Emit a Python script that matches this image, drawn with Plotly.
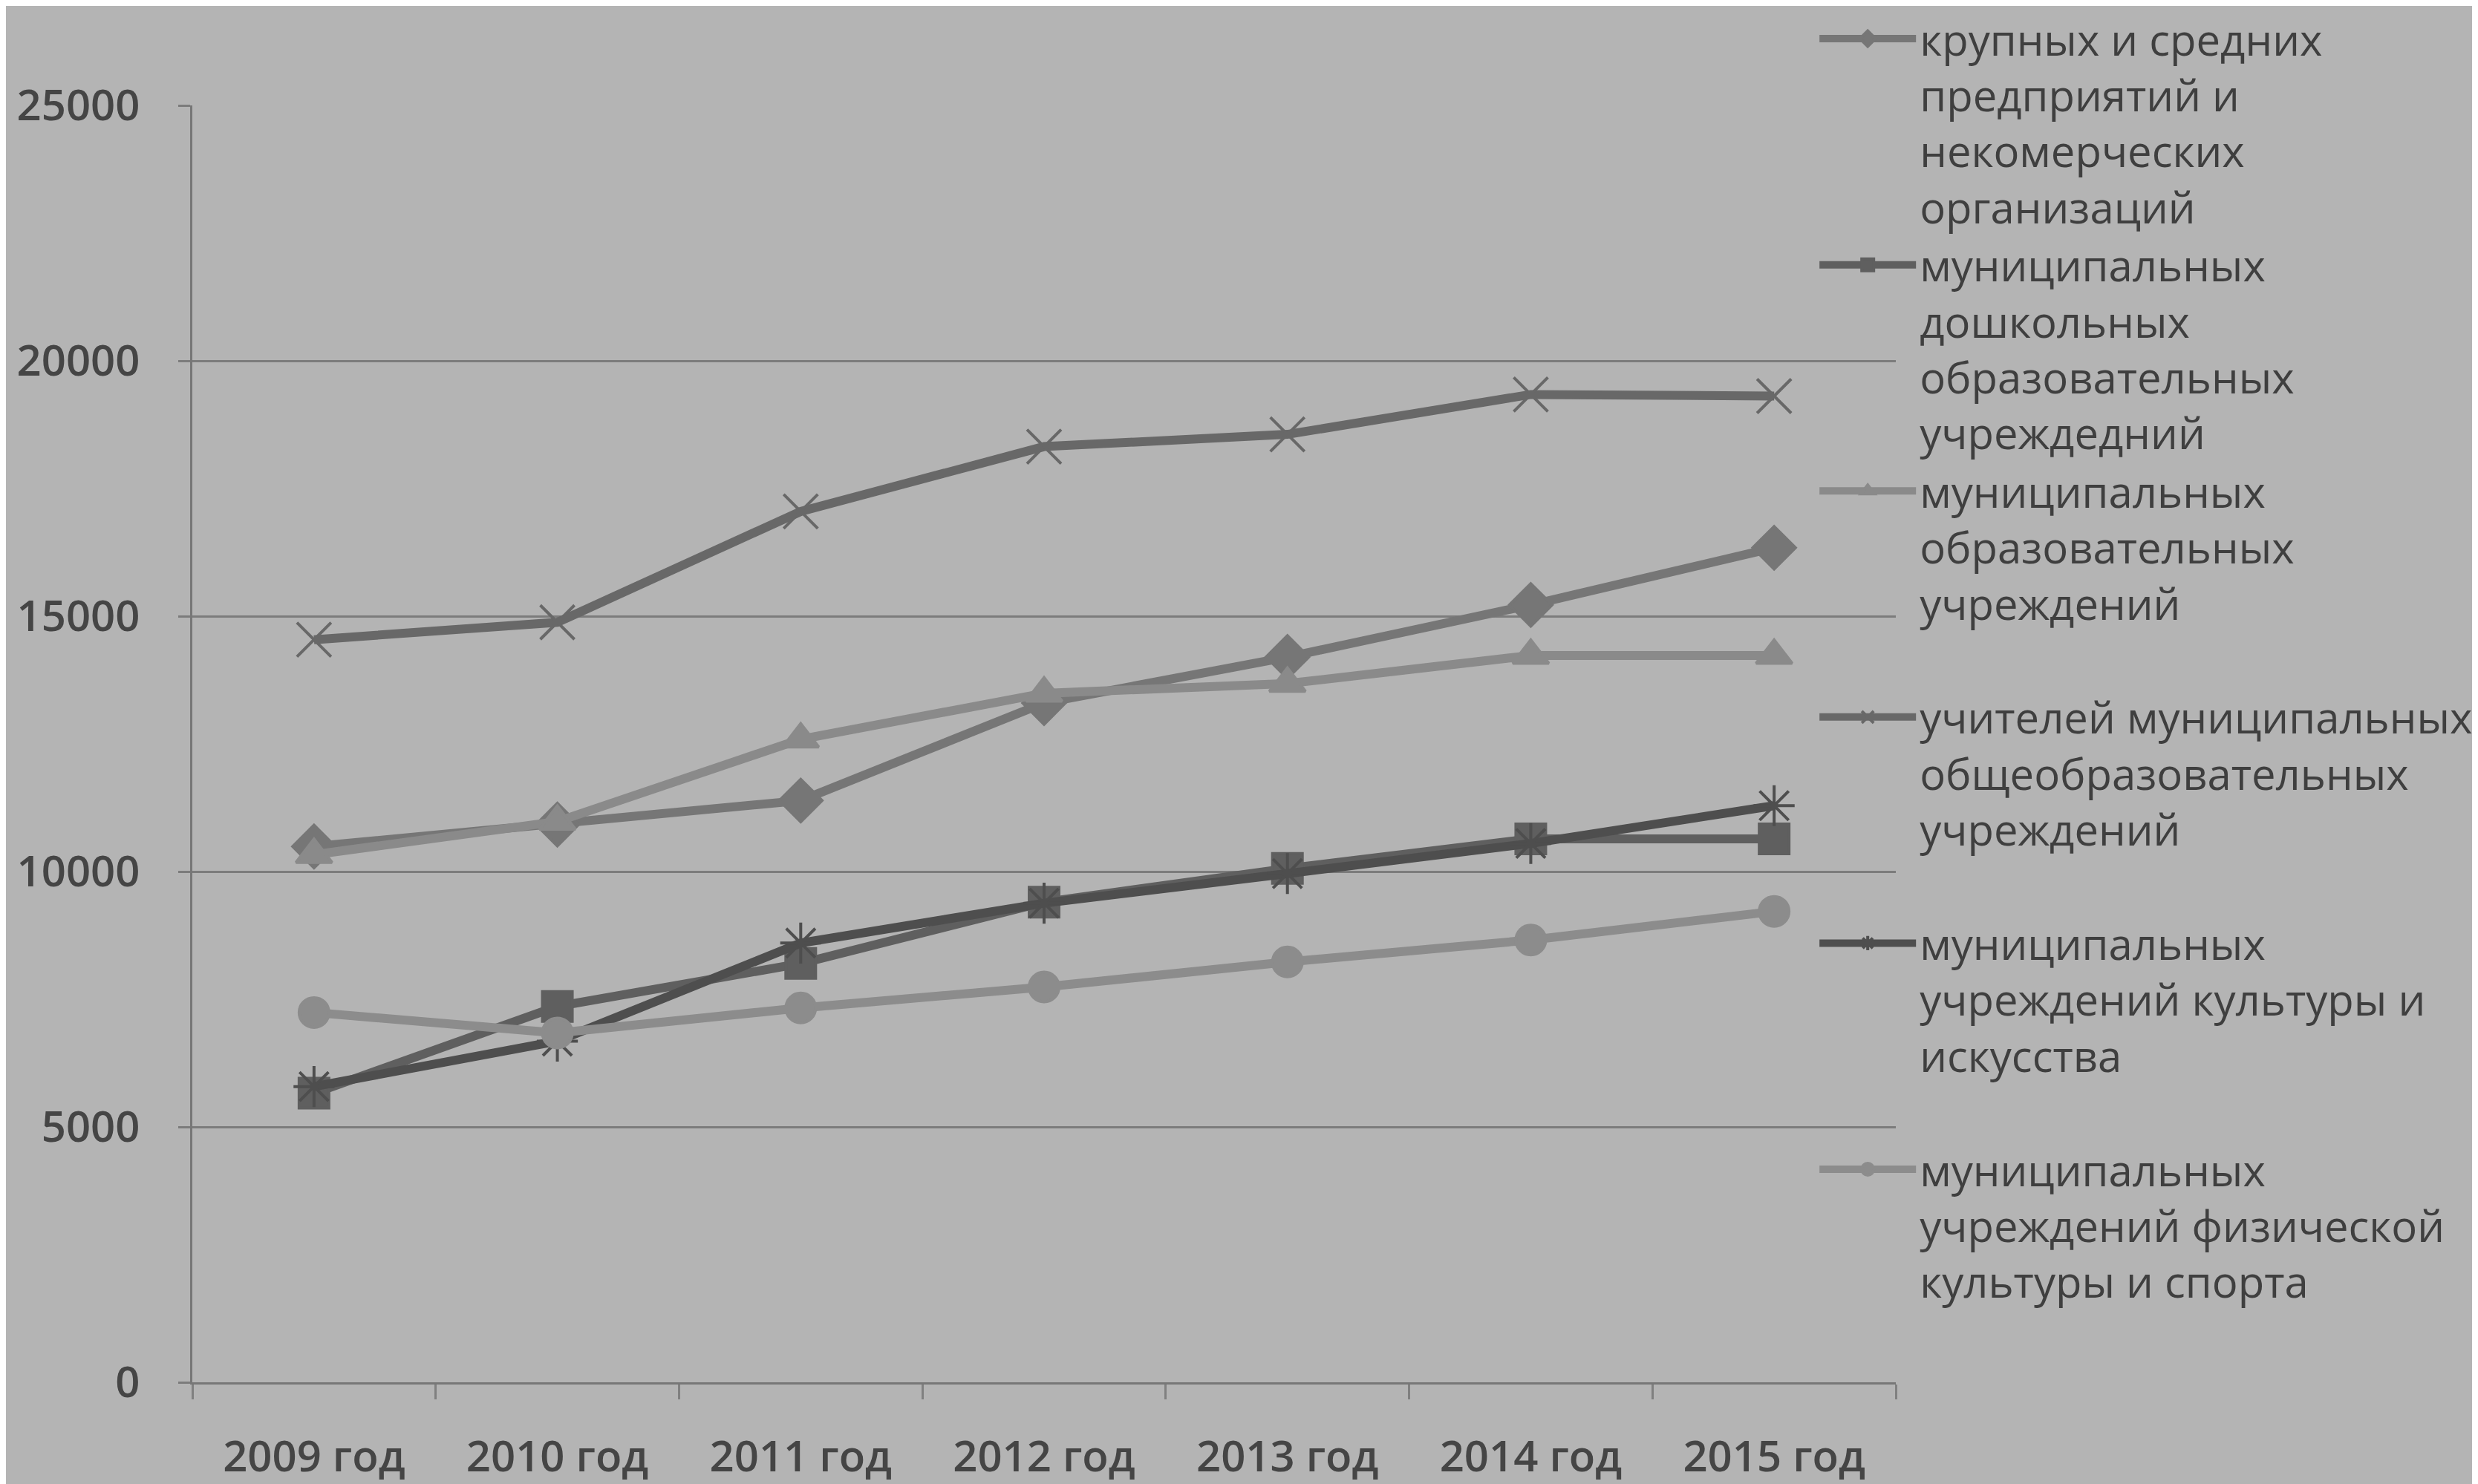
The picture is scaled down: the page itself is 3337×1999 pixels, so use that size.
import plotly.graph_objects as go

years = ["2009 год", "2010 год", "2011 год", "2012 год", "2013 год", "2014 год", "2015 год"]

names = [
    "крупных и средних<br>предприятий и<br>некомерческих<br>организаций",
    "муниципальных<br>дошкольных<br>образовательных<br>учреждедний",
    "муниципальных<br>образовательных<br>учреждений<br>\u00a0",
    "учителей муниципальных<br>общеобразовательных<br>учреждений<br>\u00a0",
    "муниципальных<br>учреждений культуры и<br>искусства<br>\u00a0",
    "муниципальных<br>учреждений физической<br>культуры и спорта<br>\u00a0",
]

krupnye = [10490, 10920, 11390, 13300, 14200, 15220, 16340]
doshkolnye = [5660, 7360, 8200, 9400, 10060, 10640, 10640]
obrazovatelnye = [10330, 10980, 12590, 13490, 13680, 14230, 14230]
uchitelya = [14540, 14880, 17050, 18320, 18560, 19340, 19310]
kultura = [5790, 6680, 8600, 9380, 9960, 10550, 11290]
sport = [7240, 6840, 7330, 7740, 8230, 8660, 9220]

series = [krupnye, doshkolnye, obrazovatelnye, uchitelya, kultura, sport]
colors = ["#767676", "#5f5f5f", "#8a8a8a", "#686868", "#4e4e4e", "#8c8c8c"]
symbols = ["diamond", "square", "triangle-up", "x-thin-open", "asterisk-open", "circle"]
msizes = [44, 40, 42, 46, 46, 40]

fig = go.Figure()
for name, vals, col, sym, ms in zip(names, series, colors, symbols, msizes):
    fig.add_trace(go.Scatter(
        x=years, y=vals, name=name, mode="lines+markers",
        line=dict(color=col, width=12),
        marker=dict(symbol=sym, size=ms, color=col, line=dict(color=col, width=4)),
    ))

txt = "#454545"
fig.update_layout(
    width=3337, height=1999,
    paper_bgcolor="#b4b4b4", plot_bgcolor="#b4b4b4",
    margin=dict(l=251, r=792, t=134, b=145, autoexpand=False),
    font=dict(family="Open Sans", size=58, color=txt, weight=600),
    showlegend=True,
    legend=dict(
        x=0.953, y=1.078, xanchor="left", yanchor="top",
        bgcolor="rgba(0,0,0,0)", valign="top",
        font=dict(size=58, color="#3f3f3f", weight=500),
        itemwidth=130, traceorder="normal", maxheight=1990,
    ),
)
fig.update_xaxes(
    type="category", range=[-0.5, 6.5],
    showline=True, linecolor="#777777", linewidth=3,
    ticks="outside", tickson="boundaries", ticklen=20, tickwidth=3, tickcolor="#808080",
    showgrid=False, ticklabelstandoff=47,
    tickfont=dict(size=58, color=txt, weight=600),
)
fig.update_yaxes(
    range=[0, 25000], dtick=5000, tickformat="d",
    showline=True, linecolor="#777777", linewidth=3,
    showgrid=True, gridcolor="#7c7c7c", gridwidth=3,
    ticks="outside", ticklen=16, tickwidth=3, tickcolor="#7c7c7c",
    zeroline=False, ticklabelstandoff=40,
    tickfont=dict(size=58, color=txt, weight=600),
)

fig.write_html("out.html")
